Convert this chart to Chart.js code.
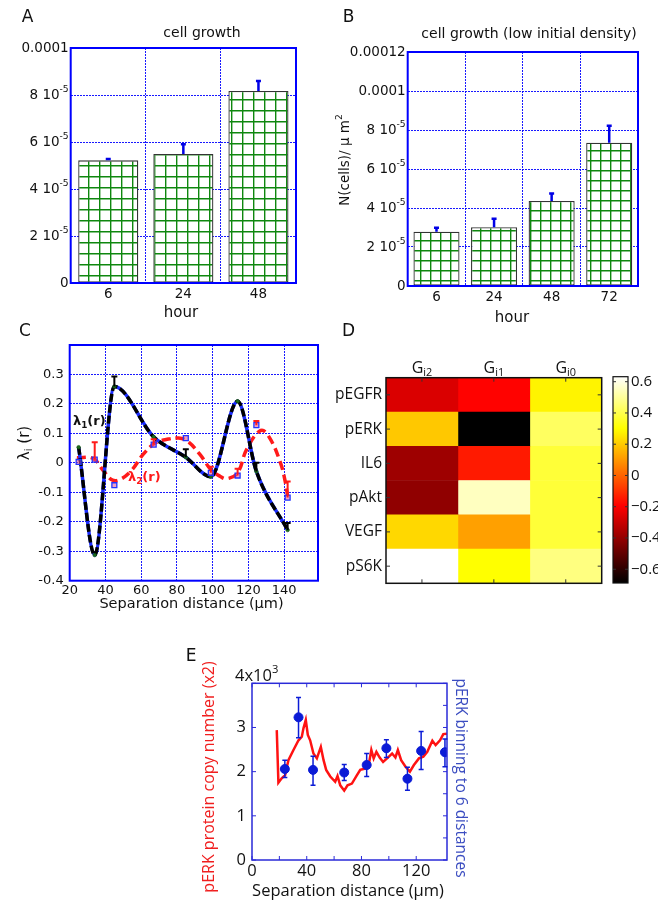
<!DOCTYPE html>
<html>
<head>
<meta charset="utf-8">
<script src="https://cdn.jsdelivr.net/npm/chart.js@4.4.0/dist/chart.umd.min.js"></script>
<style>
body{margin:0;background:#fff}
#wrap{position:relative;width:665px;height:903px;overflow:hidden;background:#fff}
#wrap canvas{position:absolute;left:0;top:0}
</style>
</head>
<body>
<div id="wrap">
<canvas id="chA" width="665" height="903"></canvas>
<canvas id="chB" width="665" height="903"></canvas>
<canvas id="chC" width="665" height="903"></canvas>
<canvas id="chD" width="665" height="903"></canvas>
<canvas id="chCb" width="665" height="903"></canvas>
<canvas id="chE" width="665" height="903"></canvas>
</div>
<script>
// A: cell growth
var aHours = ['6', '24', '48'];
var aDensity = [5.22e-5, 5.49e-5, 8.17e-5];
var aErrTop = [5.28e-5, 5.9e-5, 8.6e-5];
var aTicks = [0, 2e-5, 4e-5, 6e-5, 8e-5, 1e-4];
var aTickLabels = ['0', '2 10^{-5}', '4 10^{-5}', '6 10^{-5}', '8 10^{-5}', '0.0001'];

// B: cell growth (low initial density)
var bHours = ['6', '24', '48', '72'];
var bDensity = [2.78e-5, 3.01e-5, 4.36e-5, 7.35e-5];
var bErrTop = [2.99e-5, 3.45e-5, 4.75e-5, 8.22e-5];
var bTicks = [0, 2e-5, 4e-5, 6e-5, 8e-5, 1e-4, 1.2e-4];
var bTickLabels = ['0', '2 10^{-5}', '4 10^{-5}', '6 10^{-5}', '8 10^{-5}', '0.0001', '0.00012'];

// C: lambda_i(r)
var cDist = [25, 34, 45, 67, 85, 99, 114, 124.5, 142];
var lambda1 = [0.053, -0.313, 0.259, 0.088, 0.019, -0.047, 0.209, -0.029, -0.228];
var lambda1Top = [null, null, 0.293, null, 0.046, null, null, 0.0, -0.204];
var lambda2 = [0.003, 0.011, -0.076, 0.062, 0.084, -0.034, -0.043, 0.128, -0.118];
var lambda2Top = [null, 0.07, null, 0.08, null, -0.013, -0.02, 0.142, -0.063];
var lambda2FitDist = [24, 33, 39, 44, 49, 55, 61, 68, 74, 81, 86, 93, 99, 104, 108, 114, 119, 127, 132, 138, 140.6, 142];
var lambda2FitVal = [0.017, 0.015, -0.028, -0.059, -0.054, -0.023, 0.028, 0.068, 0.079, 0.084, 0.073, 0.028, -0.023, -0.045, -0.054, -0.034, 0.045, 0.11, 0.084, 0.0, -0.062, -0.113];

// D: heat map
var heatRows = ['pEGFR', 'pERK', 'IL6', 'pAkt', 'VEGF', 'pS6K'];
var heatCols = ['G_{i2}', 'G_{i1}', 'G_{i0}'];
var heatGi2 = [-0.265, 0.195, -0.382, -0.408, 0.226, 0.632];
var heatGi1 = [-0.19, -0.688, -0.143, 0.55, 0.117, 0.302];
var heatGi0 = [0.28, 0.426, 0.375, 0.375, 0.375, 0.467];
var cbRange = [-0.688, 0.632];
var cbTicks = [-0.6, -0.4, -0.2, 0, 0.2, 0.4, 0.6];
var cbTickLabels = ['\u22120.6', '\u22120.4', '\u22120.2', '0', '0.2', '0.4', '0.6'];

// E: pERK vs separation distance (x10^3)
var eLineDist = [18.1, 19.3, 21.7, 24.2, 26.6, 30.3, 34, 36.4, 37.6, 39.3, 40.8, 42.5, 44.9, 47.4, 50.3, 52.3, 54.2, 57.2, 60.8, 62.5, 64.5, 67.4, 69.8, 73, 76.7, 79.1, 82.8, 85.3, 87.2, 88.9, 90.9, 93.3, 95.8, 98.7, 102.4, 104.8, 106.6, 109, 112.2, 115.4, 118.3, 122, 125.2, 128.1, 131.8, 134.2, 137.4, 139.8, 142.5];
var eLineCopies = [2.94, 1.75, 1.85, 1.92, 2.26, 2.49, 2.71, 2.79, 2.98, 3.17, 2.83, 2.71, 2.41, 2.3, 2.56, 2.26, 2.04, 1.89, 1.77, 1.9, 1.69, 1.57, 1.69, 1.73, 1.92, 2.04, 2.07, 2.15, 2.49, 2.3, 2.45, 2.32, 2.22, 2.3, 2.41, 2.32, 2.49, 2.26, 2.11, 2.0, 2.15, 2.3, 2.34, 2.45, 2.7, 2.6, 2.71, 2.85, 2.86];
var eBinDist = [24, 34, 44.6, 67.4, 83.8, 98.2, 113.6, 123.6, 141];
var eBinMean = [2.06, 3.23, 2.04, 1.98, 2.15, 2.53, 1.84, 2.47, 2.44];
var eBinHi = [2.26, 3.68, 2.35, 2.16, 2.41, 2.72, 2.1, 2.91, 2.74];
var eBinLo = [1.87, 2.77, 1.69, 1.8, 1.89, 2.32, 1.58, 2.05, 2.11];
var eTicks = [0, 1, 2, 3];
var eTickLabels = ['0', '1', '2', '3'];

var W = 665, H = 903;
var gridBlue = 'rgba(0,0,255,0.9)';

function pad(L, T, R, B, lw, rw, bh) {
    return {left: L - lw, top: T, right: W - R - rw, bottom: H - B - bh};
}

function parseRich(s) {
    var runs = [], re = /([_^])\{([^}]*)\}/g, last = 0, m;
    while ((m = re.exec(s))) {
        if (m.index > last) runs.push({t: s.slice(last, m.index), k: 'n'});
        runs.push({t: m[2], k: m[1] === '^' ? 'sup' : 'sub'});
        last = re.lastIndex;
    }
    if (last < s.length) runs.push({t: s.slice(last), k: 'n'});
    return runs;
}

function drawRich(ctx, s, x, y, o) {
    var size = o.size || 13, fam = o.family || 'DejaVu Sans', wt = o.weight || 'normal';
    var runs = parseRich(s), total = 0;
    runs.forEach(function(r) {
        var fs = r.k === 'n' ? size : size * 0.68;
        r.font = wt + ' ' + fs + 'px "' + fam + '"';
        ctx.font = r.font;
        r.w = ctx.measureText(r.t).width;
        total += r.w;
        r.dy = r.k === 'sup' ? -size * 0.4 : (r.k === 'sub' ? size * 0.3 : 0);
    });
    ctx.save();
    ctx.translate(x, y);
    if (o.rot) ctx.rotate(o.rot * Math.PI / 180);
    ctx.fillStyle = o.color || '#111';
    ctx.textBaseline = 'middle';
    ctx.textAlign = 'left';
    var cx = o.align === 'left' ? 0 : (o.align === 'right' ? -total : -total / 2);
    runs.forEach(function(r) {
        ctx.font = r.font;
        ctx.fillText(r.t, cx, r.dy);
        cx += r.w;
    });
    ctx.restore();
}

function textPlugin(items) {
    return {
        id: 'texts',
        afterDraw: function(chart) {
            items.forEach(function(it) {
                var p = it.at ? it.at(chart) : [it.x, it.y];
                drawRich(chart.ctx, it.s, p[0], p[1], it);
            });
        }
    };
}

function yLabelPlugin(values, labels, o) {
    return {
        id: 'ylabels',
        afterDraw: function(chart) {
            var sc = chart.scales.y;
            values.forEach(function(v, i) {
                drawRich(chart.ctx, labels[i], chart.chartArea.left - o.gap, sc.getPixelForValue(v) + (o.dy || 0),
                    {align: 'right', size: o.size, family: o.family});
            });
        }
    };
}

function framePlugin(color, width) {
    return {
        id: 'frame',
        afterDatasetsDraw: function(chart) {
            var a = chart.chartArea, ctx = chart.ctx;
            ctx.save();
            ctx.strokeStyle = color;
            ctx.lineWidth = width;
            ctx.strokeRect(a.left, a.top, a.right - a.left, a.bottom - a.top);
            ctx.restore();
        }
    };
}

function errPlugin(list) {
    return {
        id: 'errbars',
        afterDatasetsDraw: function(chart) {
            var ctx = chart.ctx;
            list.forEach(function(e) {
                var meta = chart.getDatasetMeta(e.ds), ys = meta.yScale;
                ctx.save();
                ctx.strokeStyle = e.color;
                ctx.lineWidth = e.width;
                e.hi.forEach(function(h, i) {
                    if (h === null) return;
                    var x = meta.data[i].x;
                    var yt = ys.getPixelForValue(h);
                    var yb = e.lo ? ys.getPixelForValue(e.lo[i]) : meta.data[i].y;
                    ctx.beginPath();
                    ctx.moveTo(x, yb); ctx.lineTo(x, yt);
                    ctx.moveTo(x - e.cap / 2, yt); ctx.lineTo(x + e.cap / 2, yt);
                    if (e.lo) { ctx.moveTo(x - e.cap / 2, yb); ctx.lineTo(x + e.cap / 2, yb); }
                    ctx.stroke();
                });
                ctx.restore();
            });
        }
    };
}

function inTickPlugin(cfg) {
    return {
        id: 'inticks',
        afterDatasetsDraw: function(chart) {
            var a = chart.chartArea, ctx = chart.ctx;
            ctx.save();
            ctx.strokeStyle = cfg.color;
            ctx.lineWidth = cfg.width || 1;
            ctx.beginPath();
            Object.keys(cfg.axes).forEach(function(id) {
                var sc = chart.scales[id], side = cfg.axes[id];
                sc.ticks.forEach(function(t, i) {
                    var p = sc.getPixelForTick(i);
                    if (sc.isHorizontal()) {
                        ctx.moveTo(p, a.bottom); ctx.lineTo(p, a.bottom - cfg.len);
                        if (side === 'both') { ctx.moveTo(p, a.top); ctx.lineTo(p, a.top + cfg.len); }
                    } else {
                        if (side !== 'right') { ctx.moveTo(a.left, p); ctx.lineTo(a.left + cfg.len, p); }
                        if (side !== 'left') { ctx.moveTo(a.right, p); ctx.lineTo(a.right - cfg.len, p); }
                    }
                });
            });
            ctx.stroke();
            ctx.restore();
        }
    };
}

function hatch(size) {
    var c = document.createElement('canvas');
    c.width = size; c.height = size;
    var g = c.getContext('2d');
    g.fillStyle = '#fff';
    g.fillRect(0, 0, size, size);
    g.strokeStyle = '#0f870f';
    g.lineWidth = 1.4;
    g.beginPath();
    g.moveTo(0.7, 0); g.lineTo(0.7, size);
    g.moveTo(0, 0.7); g.lineTo(size, 0.7);
    g.stroke();
    return g.createPattern(c, 'repeat');
}

function hotColor(t) {
    var c = function(v) { return Math.max(0, Math.min(1, v)); };
    var r = c(t / 0.375), g = c((t - 0.375) / 0.375), b = c((t - 0.75) / 0.25);
    return 'rgb(' + Math.round(r * 255) + ',' + Math.round(g * 255) + ',' + Math.round(b * 255) + ')';
}
function heatColor(v) {
    return hotColor((v - cbRange[0]) / (cbRange[1] - cbRange[0]));
}

function base(extra) {
    var o = {
        responsive: false,
        animation: false,
        devicePixelRatio: 1,
        events: [],
        plugins: {legend: {display: false}, tooltip: {enabled: false}, title: {display: false}}
    };
    return Object.assign(o, extra);
}

var fontAC = 'DejaVu Sans';
var fontDE = 'Open Sans';

function barChart(id, labels, values, errTop, ticks, tickLabels, ymax, area, cell, texts) {
    new Chart(document.getElementById(id), {
        type: 'bar',
        data: {
            labels: labels,
            datasets: [{
                data: values,
                backgroundColor: hatch(cell),
                borderColor: '#333',
                borderWidth: 1.3,
                borderSkipped: false,
                barPercentage: 0.8,
                categoryPercentage: 1
            }]
        },
        options: base({
            layout: {padding: pad(area[0], area[1], area[2], area[3], 40, 0, 30)},
            scales: {
                x: {
                    grid: {color: gridBlue, lineWidth: 1, drawTicks: false, offset: true},
                    border: {display: false, dash: [2, 1]},
                    ticks: {font: {family: fontAC, size: 13.5}, color: '#111', padding: 3},
                    afterFit: function(s) { s.height = 30; }
                },
                y: {
                    min: 0, max: ymax,
                    ticks: {display: false, stepSize: ticks[1]},
                    grid: {color: gridBlue, lineWidth: 1, drawTicks: false},
                    border: {display: false, dash: [2, 1]},
                    afterBuildTicks: function(s) { s.ticks = ticks.map(function(v) { return {value: v}; }); },
                    afterFit: function(s) { s.width = 40; }
                }
            }
        }),
        plugins: [
            framePlugin('#0000ff', 2),
            errPlugin([{ds: 0, hi: errTop, color: '#0000e6', width: 2.5, cap: 5}]),
            yLabelPlugin(ticks, tickLabels, {gap: 2, size: 13.5, family: fontAC}),
            textPlugin(texts)
        ]
    });
}

barChart('chA', aHours, aDensity, aErrTop, aTicks, aTickLabels, 1e-4, [70.7, 48, 296, 283], 11, [
    {s: 'A', x: 27.5, y: 17.5, size: 17},
    {s: 'cell growth', x: 202, y: 33, size: 14},
    {s: 'hour', x: 181, y: 313, size: 15}
]);

barChart('chB', bHours, bDensity, bErrTop, bTicks, bTickLabels, 1.2e-4, [407.7, 52, 638, 286], 10.5, [
    {s: 'B', x: 348.5, y: 17.5, size: 17},
    {s: 'cell growth (low initial density)', x: 529, y: 34.5, size: 14},
    {s: 'N(cells)/ \u03bc m^{2}', x: 345, y: 160, size: 13.5, rot: -90},
    {s: 'hour', x: 512, y: 318, size: 15}
]);

// C
function pts(xs, ys) { return xs.map(function(x, i) { return {x: x, y: ys[i]}; }); }

new Chart(document.getElementById('chC'), {
    type: 'scatter',
    data: {
        datasets: [
            {data: pts(lambda2FitDist, lambda2FitVal), showLine: true, borderColor: '#ff1a1a', borderWidth: 3.5,
             borderDash: [9, 5], tension: 0.4, pointRadius: 0, order: 3},
            {data: pts(cDist, lambda1), showLine: true, borderColor: '#1a2cff', borderWidth: 3.5,
             cubicInterpolationMode: 'monotone', pointRadius: 0, order: 2},
            {data: pts(cDist, lambda1), showLine: true, borderColor: '#000', borderWidth: 3.5, borderDash: [8, 3],
             cubicInterpolationMode: 'monotone', pointRadius: 1.8, pointBorderWidth: 0.6,
             pointBackgroundColor: '#1d6b1d', pointBorderColor: '#0c4d0c', order: 1},
            {data: pts(cDist, lambda2), showLine: false, pointStyle: 'rect', pointRadius: 3.5,
             pointBackgroundColor: 'rgba(230,80,140,0.55)', pointBorderColor: '#2233ff', pointBorderWidth: 1.3, order: 0}
        ]
    },
    options: base({
        layout: {padding: pad(69.7, 345, 318, 580.7, 50, 0, 25)},
        scales: {
            x: {
                type: 'linear', min: 20, max: 159,
                ticks: {stepSize: 20, font: {family: fontAC, size: 13}, color: '#111', padding: 2, maxRotation: 0},
                grid: {color: gridBlue, lineWidth: 1, drawTicks: false},
                border: {display: false, dash: [2, 1]},
                afterBuildTicks: function(s) { s.ticks = s.ticks.filter(function(t) { return t.value % 20 === 0; }); },
                afterFit: function(s) { s.height = 25; }
            },
            y: {
                min: -0.4, max: 0.4,
                ticks: {
                    stepSize: 0.1, font: {family: fontAC, size: 13}, color: '#111', padding: 6,
                    callback: function(v) { var r = Math.round(v * 10) / 10; return r > 0.35 ? '' : String(r); }
                },
                grid: {color: gridBlue, lineWidth: 1, drawTicks: false},
                border: {display: false, dash: [2, 1]},
                afterFit: function(s) { s.width = 50; }
            }
        }
    }),
    plugins: [
        framePlugin('#0000ff', 2),
        errPlugin([
            {ds: 2, hi: lambda1Top, color: '#000', width: 2, cap: 6},
            {ds: 3, hi: lambda2Top, color: '#ff1a1a', width: 2, cap: 6}
        ]),
        textPlugin([
            {s: 'C', x: 25, y: 332, size: 17},
            {s: '\u03bb_{i} (r)', x: 25, y: 443, size: 15, rot: -90},
            {s: '\u03bb_{1}(r)', x: 73, y: 422, size: 13, weight: 'bold', align: 'left'},
            {s: '\u03bb_{2}(r)', x: 128, y: 478, size: 13, weight: 'bold', align: 'left', color: '#ff1a1a'},
            {s: 'Separation distance (\u03bcm)', x: 191.5, y: 604, size: 14.5}
        ])
    ]
});

// D heat map
var heatSets = [heatGi2, heatGi1, heatGi0];
new Chart(document.getElementById('chD'), {
    type: 'bar',
    data: {
        labels: heatRows,
        datasets: heatSets.map(function(vals) {
            return {
                data: vals.map(function() { return 1; }),
                backgroundColor: vals.map(heatColor),
                borderWidth: 0,
                barPercentage: 1,
                categoryPercentage: 1
            };
        })
    },
    options: base({
        indexAxis: 'y',
        layout: {padding: pad(386, 377.7, 601.7, 583.3, 60, 0, 0)},
        scales: {
            x: {
                type: 'linear', stacked: true, min: 0, max: 3,
                ticks: {display: false},
                grid: {display: false},
                border: {display: false},
                afterBuildTicks: function(s) { s.ticks = [{value: 0.5}, {value: 1.5}, {value: 2.5}]; },
                afterFit: function(s) { s.height = 0; }
            },
            y: {
                stacked: true,
                ticks: {font: {family: fontDE, size: 15.5}, color: '#111', padding: 4},
                grid: {display: false, drawTicks: false},
                border: {display: false},
                afterFit: function(s) { s.width = 60; }
            }
        }
    }),
    plugins: [
        framePlugin('#111', 1.5),
        inTickPlugin({color: '#333', len: 4, axes: {x: 'both', y: 'both'}}),
        textPlugin([{s: 'D', x: 348.5, y: 332, size: 17}].concat(heatCols.map(function(s, i) {
            return {s: s, size: 16, family: fontDE,
                    at: function(ch) { return [ch.scales.x.getPixelForValue(i + 0.5), 368]; }};
        })))
    ]
});

// colour bar
new Chart(document.getElementById('chCb'), {
    type: 'bar',
    data: {
        labels: ['cb'],
        datasets: [{
            data: [cbRange],
            backgroundColor: function(c) {
                var ca = c.chart.chartArea;
                if (!ca) return '#fff';
                var g = c.chart.ctx.createLinearGradient(0, ca.bottom, 0, ca.top);
                for (var k = 0; k <= 24; k++) g.addColorStop(k / 24, hotColor(k / 24));
                return g;
            },
            borderWidth: 0,
            barPercentage: 1,
            categoryPercentage: 1
        }]
    },
    options: base({
        layout: {padding: pad(613, 376.7, 628, 583, 0, 30, 0)},
        scales: {
            x: {display: false},
            y: {
                position: 'right', min: cbRange[0], max: cbRange[1],
                ticks: {font: {family: fontDE, size: 15}, color: '#111', padding: 3,
                        callback: function(v, i) { return cbTickLabels[i]; }},
                grid: {display: false, drawTicks: false},
                border: {display: false},
                afterBuildTicks: function(s) { s.ticks = cbTicks.map(function(v) { return {value: v}; }); },
                afterFit: function(s) { s.width = 30; }
            }
        }
    }),
    plugins: [
        framePlugin('#111', 1.2),
        inTickPlugin({color: '#333', len: 3, axes: {y: 'both'}})
    ]
});

// E
new Chart(document.getElementById('chE'), {
    type: 'scatter',
    data: {
        datasets: [
            {data: pts(eBinDist, eBinMean), pointRadius: 4.5, pointBackgroundColor: '#0b1bd6',
             pointBorderColor: '#0b1bd6', order: 0},
            {data: pts(eLineDist, eLineCopies), showLine: true, borderColor: '#ff1212', borderWidth: 2.5,
             pointRadius: 0, tension: 0, order: 1}
        ]
    },
    options: base({
        layout: {padding: pad(252, 683.3, 447, 860, 30, 20, 30)},
        scales: {
            x: {
                type: 'linear', min: 0, max: 142.5,
                ticks: {stepSize: 20, font: {family: fontDE, size: 16.5}, color: '#111', padding: 1,
                        maxRotation: 0, minRotation: 0, autoSkip: false,
                        callback: function(v) { return v % 40 === 0 ? String(v) : ''; }},
                grid: {display: false, drawTicks: false},
                border: {display: false},
                afterBuildTicks: function(s) { s.ticks = s.ticks.filter(function(t) { return t.value % 20 === 0; }); },
                afterFit: function(s) { s.height = 30; }
            },
            y: {
                min: 0, max: 4,
                ticks: {display: false, stepSize: 1},
                grid: {display: false, drawTicks: false},
                border: {display: false},
                afterFit: function(s) { s.width = 30; }
            },
            y2: {
                type: 'linear', position: 'right', min: 0, max: 8,
                ticks: {display: false, stepSize: 1},
                grid: {display: false, drawTicks: false},
                border: {display: false},
                afterFit: function(s) { s.width = 20; }
            }
        }
    }),
    plugins: [
        framePlugin('#2a2ad8', 1.5),
        inTickPlugin({color: '#2a2ad8', len: 4, axes: {x: 'both', y: 'left', y2: 'right'}}),
        errPlugin([{ds: 0, hi: eBinHi, lo: eBinLo, color: '#0b1bd6', width: 1.5, cap: 5}]),
        yLabelPlugin(eTicks, eTickLabels, {gap: 6, size: 16.5, family: fontDE}),
        textPlugin([
            {s: 'E', x: 191, y: 657, size: 17},
            {s: '4x10^{3}', x: 235, y: 676, size: 16.5, family: fontDE, align: 'left'},
            {s: 'pERK protein copy number (x2)', x: 209, y: 777, size: 16, family: fontDE, rot: -90, color: '#f01e1e'},
            {s: 'pERK binning to 6 distances', x: 460.5, y: 778, size: 15.5, family: fontDE, rot: 90, color: '#3a4cc0'},
            {s: 'Separation distance (\u03bcm)', x: 348, y: 891.5, size: 16.5, family: fontDE}
        ])
    ]
});
</script>
</body>
</html>
